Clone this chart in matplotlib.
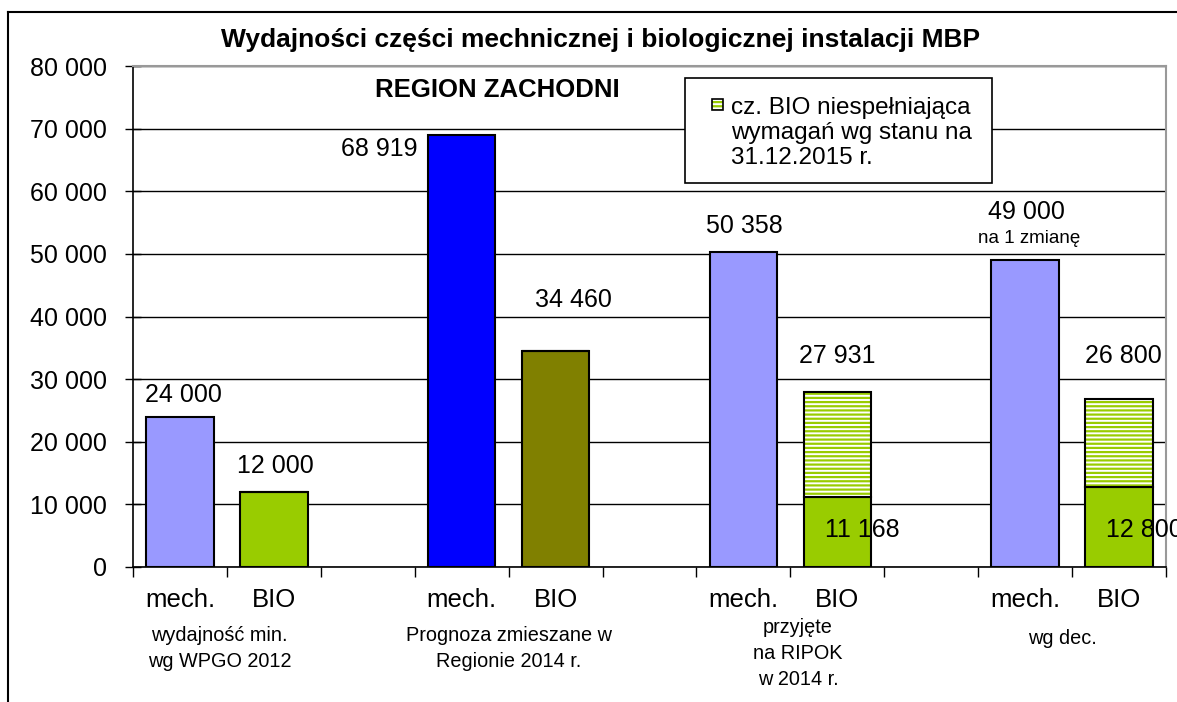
'''
Wydajności części mechanicznej i biologicznej instalacji MBP - region zachodni
'''
import matplotlib
matplotlib.use('Agg')
import matplotlib.pyplot as plt
from matplotlib.patches import Rectangle
from matplotlib.lines import Line2D
import matplotlib.transforms as mtransforms

plt.rcParams['font.family'] = ['Liberation Sans', 'DejaVu Sans']
plt.rcParams['hatch.linewidth'] = 1.6

# Data
groups = ['wydajność min.\nwg WPGO 2012', 'Prognoza zmieszane w\nRegionie 2014 r.',
          'przyjęte\nna RIPOK\nw 2014 r.', 'wg dec.']
mech_values = [24000, 68919, 50358, 49000]
bio_values = [12000, 34460, 27931, 26800]
bio_ok_values = [12000, 34460, 11168, 12800]
mech_colors = ['#9999FF', '#0000FF', '#9999FF', '#9999FF']
bio_colors = ['#99CC00', '#808000', '#99CC00', '#99CC00']
legend_text = 'cz. BIO niespełniająca\nwymagań wg stanu na\n31.12.2015 r.'


def fmt(v):
    return f'{v:,}'.replace(',', ' ')


W, H = 1177, 702
fig = plt.figure(figsize=(W / 100, H / 100), dpi=100)
ax = fig.add_axes([133 / W, 1 - 567 / H, 1033 / W, 501 / H])

# outer chart frame (top and left edges visible)
fig.lines.append(Line2D([8 / W, 1.0], [1 - 12 / H, 1 - 12 / H], transform=fig.transFigure,
                        color='black', linewidth=1.5))
fig.lines.append(Line2D([8 / W, 8 / W], [0, 1 - 12 / H], transform=fig.transFigure,
                        color='black', linewidth=1.5))

# positions: each group takes 3 category slots (mech, BIO, gap)
mech_x = [3 * i for i in range(len(groups))]
bio_x = [3 * i + 1 for i in range(len(groups))]
w = 0.72

ax.bar(mech_x, mech_values, width=w, color=mech_colors, edgecolor='black', linewidth=1.5, zorder=3)
ax.bar(bio_x, bio_ok_values, width=w, color=bio_colors, edgecolor='black', linewidth=1.5, zorder=3)
extra = [b - o for b, o in zip(bio_values, bio_ok_values)]
ax.bar(bio_x, extra, bottom=bio_ok_values, width=w, color='white', edgecolor='#99CC00',
       hatch='----', linewidth=0, zorder=3)
ax.bar(bio_x, extra, bottom=bio_ok_values, width=w, fill=False, edgecolor='black',
       linewidth=1.5, zorder=4)

# data labels (x, y positions in data units)
fs = 18
ax.text(0.04, 27500, fmt(mech_values[0]), ha='center', va='center', fontsize=fs, zorder=5)
ax.text(1.02, 16100, fmt(bio_values[0]), ha='center', va='center', fontsize=fs, zorder=5)
ax.text(2.12, 66800, fmt(mech_values[1]), ha='center', va='center', fontsize=fs, zorder=5)
ax.text(4.19, 42650, fmt(bio_values[1]), ha='center', va='center', fontsize=fs, zorder=5)
ax.text(6.01, 54470, fmt(mech_values[2]), ha='center', va='center', fontsize=fs, zorder=5)
ax.text(7.0, 33700, fmt(bio_values[2]), ha='center', va='center', fontsize=fs, zorder=5)
ax.text(9.01, 56700, fmt(mech_values[3]), ha='center', va='center', fontsize=fs, zorder=5)
ax.text(9.04, 52400, 'na 1 zmianę', ha='center', va='center', fontsize=13.5, zorder=5)
ax.text(10.05, 33700, fmt(bio_values[3]), ha='center', va='center', fontsize=fs, zorder=5,
        clip_on=False)
ax.text(7.27, 5900, fmt(bio_ok_values[2]), ha='center', va='center', fontsize=fs, zorder=5)
ax.text(10.27, 5900, fmt(bio_ok_values[3]), ha='center', va='center', fontsize=fs, zorder=5,
        clip_on=False)

# axes
ax.set_xlim(-0.5, 10.5)
ax.set_ylim(0, 80000)
ax.set_yticks(range(0, 80001, 10000))
ax.set_yticklabels([fmt(v) for v in range(0, 80001, 10000)], fontsize=fs)
ax.yaxis.grid(True, color='black', linewidth=1, zorder=0)
ax.set_axisbelow(True)
ax.tick_params(axis='y', direction='inout', length=11, width=1, pad=13)

ax.set_xticks(mech_x + bio_x)
ax.set_xticklabels(['mech.'] * len(mech_x) + ['BIO'] * len(bio_x), fontsize=18.5)
ax.tick_params(axis='x', length=0, pad=15)
ax.set_xticks([i - 0.5 for i in range(12)], minor=True)
ax.tick_params(axis='x', which='minor', length=7, width=1, direction='out')

ax.spines['left'].set_linewidth(1.2)
ax.spines['bottom'].set_linewidth(1.2)
for s in ('top', 'right'):
    ax.spines[s].set_color('#999999')
    ax.spines[s].set_linewidth(1.5)

# group labels below the categories (small per-box nudges as in the original)
trans = mtransforms.blended_transform_factory(ax.transData, ax.transAxes)
nudges = [(-0.08, 0.0), (0.0, 0.0), (0.08, 0.016), (-0.1, -0.006)]
for i, g in enumerate(groups):
    dx, dy = nudges[i]
    ax.text(3 * i + 0.5 + dx, -0.118 + dy, g, transform=trans, ha='center', va='top',
            fontsize=14.3, linespacing=1.45)

# titles
fig.text(601 / W, 1 - 40 / H, 'Wydajności części mechnicznej i biologicznej instalacji MBP',
         ha='center', va='center', fontsize=19, fontweight='bold')
fig.text(497 / W, 1 - 90 / H, 'REGION ZACHODNI', ha='center', va='center',
         fontsize=18.5, fontweight='bold')

# legend box
lx0, ly0, lx1, ly1 = 685 / W, 1 - 183 / H, 992 / W, 1 - 78 / H
fig.patches.append(Rectangle((lx0, ly0), lx1 - lx0, ly1 - ly0, transform=fig.transFigure,
                             facecolor='white', edgecolor='black', linewidth=1.2, zorder=5))
fig.patches.append(Rectangle((712 / W, 1 - 110 / H), 11 / W, 11 / H,
                             transform=fig.transFigure, facecolor='white', edgecolor='#99CC00',
                             hatch='----', linewidth=0, zorder=6))
fig.patches.append(Rectangle((712 / W, 1 - 110 / H), 11 / W, 11 / H,
                             transform=fig.transFigure, fill=False, edgecolor='black',
                             linewidth=1.2, zorder=7))
fig.text(731 / W, 1 - 133 / H, legend_text, ha='left', va='center', fontsize=17.5,
         linespacing=1.2, zorder=8)

fig.savefig('out.png', dpi=100)
